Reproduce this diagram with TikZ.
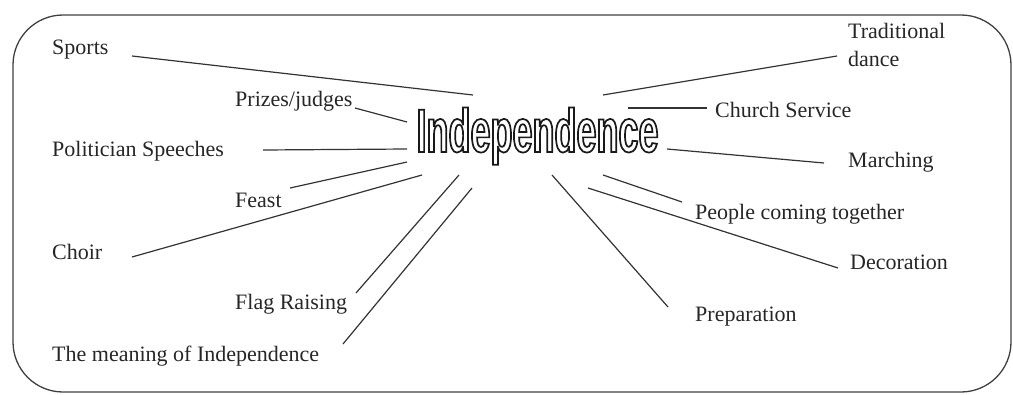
\documentclass[tikz,border=0pt]{standalone}
\usepackage{fontspec}
\setmainfont{Liberation Serif}
\newfontfamily\indfont{Liberation Sans}[FakeStretch=0.585]
\newcommand{\outlinetext}[1]{\special{pdf:literal 1 Tr 1.7 w 0.1 G}#1\special{pdf:literal 0 Tr 0 G}}
\begin{document}
\begin{tikzpicture}[x=1pt,y=-1pt,
  lab/.style={inner sep=0pt, anchor=base west, font=\fontsize{22}{26}\selectfont, text=black!85},
  conn/.style={line width=1.2pt, draw=black!80},
  frame/.style={line width=1.3pt, draw=black!75, rounded corners=50pt}]
\useasboundingbox (0,0) rectangle (1013,394);
\draw[frame] (13,15) rectangle (1011,392);
% labels
\node[lab] (sports) at (52,54) {Sports};
\node[lab] (prizes) at (235,106) {Prizes/judges};
\node[lab] (pol) at (52,156) {Politician Speeches};
\node[lab] (feast) at (235,207) {Feast};
\node[lab] (choir) at (52,259) {Choir};
\node[lab] (flag) at (235,309) {Flag Raising};
\node[lab] (mean) at (52,361) {The meaning of Independence};
\node[lab, align=left, font=\fontsize{22}{28}\selectfont] (trad) at (848,66) {Traditional\\dance};
\node[lab] (church) at (715,117) {Church Service};
\node[lab] (march) at (848,167) {Marching};
\node[lab] (people) at (695,219) {People coming together};
\node[lab] (deco) at (850,269) {Decoration};
\node[lab] (prep) at (695,321) {Preparation};
% connector ends
\coordinate (sportsA) at (132,56);   \coordinate (sportsB) at (473,95);
\coordinate (prizesA) at (355,108);  \coordinate (prizesB) at (407,122);
\coordinate (polA) at (263,150);     \coordinate (polB) at (407,149);
\coordinate (feastA) at (290,188);   \coordinate (feastB) at (407,162);
\coordinate (choirA) at (132,257);   \coordinate (choirB) at (422,175);
\coordinate (flagA) at (356,293);    \coordinate (flagB) at (459,175);
\coordinate (meanA) at (343,344);    \coordinate (meanB) at (472,188);
\coordinate (tradA) at (837,56);     \coordinate (tradB) at (603,95);
\coordinate (churchA) at (707,108);  \coordinate (churchB) at (628,108);
\coordinate (marchA) at (824,163);   \coordinate (marchB) at (667,149);
\coordinate (peopleA) at (682,202);  \coordinate (peopleB) at (603,175);
\coordinate (decoA) at (838,268);    \coordinate (decoB) at (588,188);
\coordinate (prepA) at (668,307);    \coordinate (prepB) at (552,175);
\foreach \n in {sports,prizes,pol,feast,choir,flag,mean,trad,church,march,people,deco,prep}
  \draw[conn] (\n A) -- (\n B);
% hub (drawn last: outlined text)
\node[inner sep=0pt, anchor=base, font=\indfont\bfseries\fontsize{61.5}{62}\selectfont] (hub) at (537.5,152) {\outlinetext{Independence}};
\end{tikzpicture}
\end{document}
